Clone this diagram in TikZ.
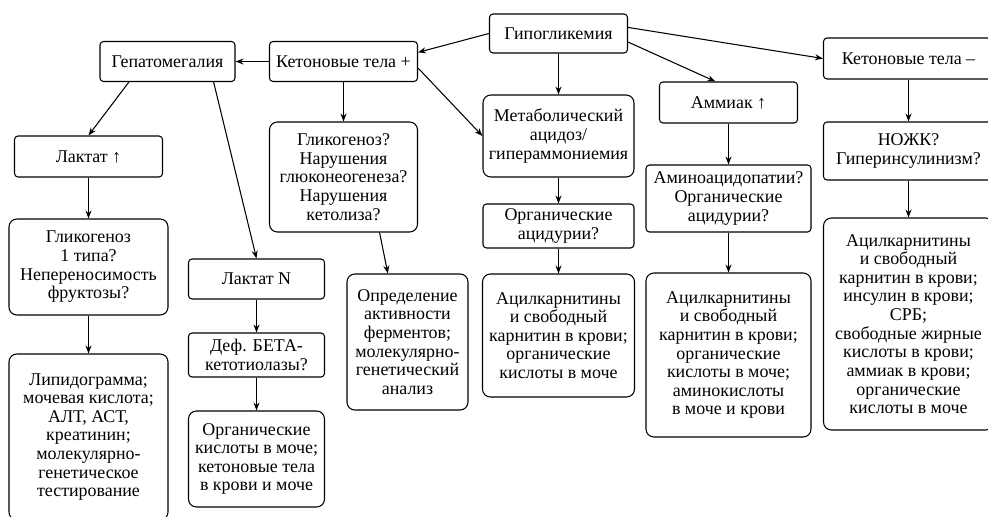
\documentclass[tikz,border=0pt]{standalone}
\usepackage{fontspec}
\setmainfont{Liberation Serif}
\usetikzlibrary{arrows.meta}

\begin{document}
\begin{tikzpicture}[
	x=0.02cm, y=-0.02cm,
	box/.style 2 args={ draw, line width=0.6pt, rounded corners=2pt, align=center, inner sep=0pt, minimum width=#1*0.02cm, minimum height=#2*0.02cm, font=\fontsize{10.2}{10.6}\selectfont },
	boxr/.style 2 args={ box={#1}{#2}, rounded corners=4.5pt },
	arr/.style={ line width=0.6pt, -{Stealth[length=4.5pt,width=3.4pt]} }
]

\useasboundingbox (0,0) rectangle (988,517);

\begin{scope}
	\node[box={138}{39}] at (558.5,33.5) (hypo) {Гипогликемия};
	\node[box={148}{40}] at (343.5,61.5) (ketp) {Кетоновые тела +};
	\node[box={135}{40}] at (167.5,61.5) (hepa) {Гепатомегалия};
	\node[box={170}{41}] at (908.5,58.5) (ketm) {Кетоновые тела –};
\end{scope}

\begin{scope}
	\node[box={148}{41}] at (88.5,156.5) (lacu) {Лактат ↑};
	\node[boxr={159}{96}] at (88.5,267) (gly1) {Гликогеноз\\1 типа?\\Непереносимость\\фруктозы?};
	\node[boxr={159}{166}] at (88.5,437) (lipi) {Липидограмма;\\мочевая кислота;\\АЛТ, АСТ,\\креатинин;\\молекулярно-\\генетическое\\тестирование};
	\node[box={136}{40}] at (256.5,279) (lacn) {Лактат N};
	\node[box={136}{44}] at (256.5,355) (defb) {Деф. БЕТА-\\кетотиолазы?};
	\node[boxr={136}{96}] at (256.5,459) (orgk) {Органические\\кислоты в моче;\\кетоновые тела\\в крови и моче};
\end{scope}

\begin{scope}
	\node[boxr={148}{110}] at (343.5,177) (glyq) {Гликогеноз?\\Нарушения\\глюконеогенеза?\\Нарушения\\кетолиза?};
	\node[boxr={121}{136}] at (407.5,342) (opre) {Определение\\активности\\ферментов;\\молекулярно-\\генетический\\анализ};
	\node[boxr={151}{82}] at (558.5,136) (meta) {Метаболический\\ацидоз/\\гипераммониемия};
	\node[box={151}{44}] at (558.5,226) (orga) {Органические\\ацидурии?};
	\node[boxr={152}{123}] at (558.5,335.5) (acy1) {Ацилкарнитины\\и свободный\\карнитин в крови;\\органические\\кислоты в моче};
\end{scope}

\begin{scope}
	\node[box={138}{41}] at (728.5,102.5) (ammi) {Аммиак ↑};
	\node[box={165}{67}] at (728.5,198.5) (amin) {Аминоацидопатии?\\Органические\\ацидурии?};
	\node[boxr={165}{164}] at (728.5,355) (acy2) {Ацилкарнитины\\и свободный\\карнитин в крови;\\органические\\кислоты в моче;\\аминокислоты\\в моче и крови};
	\node[box={170}{58}] at (908.5,151) (nozk) {НОЖК?\\Гиперинсулинизм?};
	\node[boxr={170}{212}] at (908.5,324) (acy3) {Ацилкарнитины\\и свободный\\карнитин в крови;\\инсулин в крови;\\СРБ;\\свободные жирные\\кислоты в крови;\\аммиак в крови;\\органические\\кислоты в моче};
\end{scope}

\draw[arr] (hypo.west) to (ketp.7);
\draw[arr] (hypo.south) to (meta.north);
\draw[arr] (hypo.-7) to (ammi.122);
\draw[arr] (hypo.5) to (ketm.west);
\draw[arr] (ketp.west) to (hepa.east);
\draw[arr] (ketp.south) to (glyq.north);
\draw[arr] (ketp.-5) to (meta.west);
\draw[arr] (hepa.208) to (lacu.north);
\draw[arr] (hepa.-24) to (lacn.north);
\draw[arr] (lacu) to (gly1);
\draw[arr] (gly1) to (lipi);
\draw[arr] (lacn) to (defb);
\draw[arr] (defb) to (orgk);
\draw[arr] (glyq.-57.5) to (opre.106);
\draw[arr] (meta) to (orga);
\draw[arr] (orga) to (acy1);
\draw[arr] (ammi) to (amin);
\draw[arr] (amin) to (acy2);
\draw[arr] (ketm) to (nozk);
\draw[arr] (nozk) to (acy3);

\end{tikzpicture}
\end{document}
